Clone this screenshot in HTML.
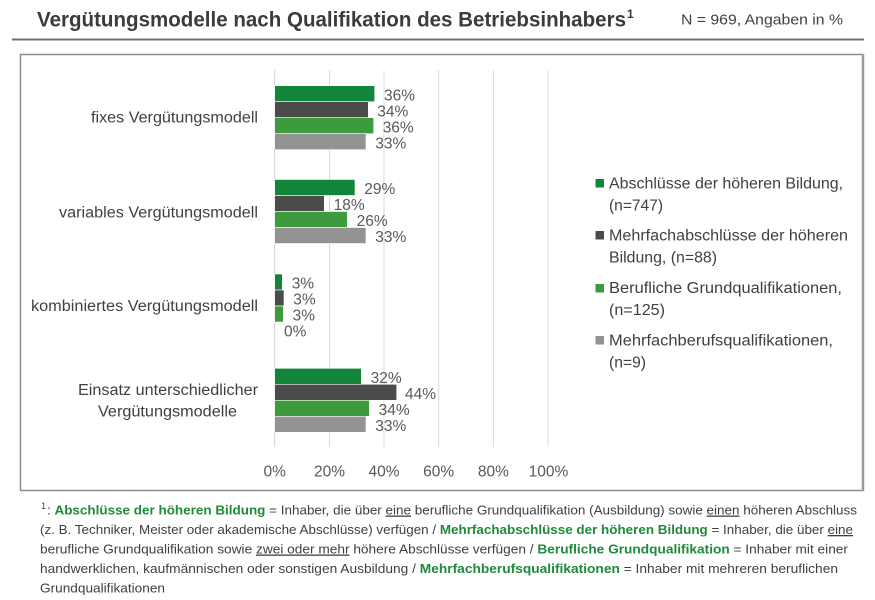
<!DOCTYPE html>
<html>
<head>
<meta charset="utf-8">
<style>
  html, body { margin: 0; padding: 0; background: #ffffff; }
  body { width: 875px; height: 600px; overflow: hidden; }
  svg { display: block; }
  text { font-family: "Liberation Sans", "DejaVu Sans", sans-serif; }
</style>
</head>
<body>
<svg width="875" height="600" viewBox="0 0 875 600" xmlns="http://www.w3.org/2000/svg">
  <rect x="0" y="0" width="875" height="600" fill="#ffffff"/>

  <!-- Title -->
  <text x="37" y="26.5" font-size="21" font-weight="bold" fill="#3b3b3b" textLength="589" lengthAdjust="spacingAndGlyphs">Vergütungsmodelle nach Qualifikation des Betriebsinhabers</text>
  <text x="627" y="18" font-size="12" font-weight="bold" fill="#3b3b3b">1</text>
  <text x="681" y="24.5" font-size="15" fill="#404040" textLength="162" lengthAdjust="spacingAndGlyphs">N = 969, Angaben in %</text>
  <line x1="12" y1="39.5" x2="864" y2="39.5" stroke="#707070" stroke-width="2"/>

  <!-- Chart box -->
  <rect x="20.5" y="54.5" width="842.5" height="436" fill="#ffffff" stroke="#8c8c8c" stroke-width="1.5"/>
  <line x1="863" y1="54" x2="863" y2="491" stroke="#9a9a9a" stroke-width="2.5"/>

  <!-- Gridlines -->
  <g stroke="#d9d9d9" stroke-width="1">
    <line x1="329.5" y1="70.5" x2="329.5" y2="447"/>
    <line x1="384" y1="70.5" x2="384" y2="447"/>
    <line x1="438.7" y1="70.5" x2="438.7" y2="447"/>
    <line x1="493.4" y1="70.5" x2="493.4" y2="447"/>
    <line x1="548" y1="70.5" x2="548" y2="447"/>
  </g>
  <line x1="274.7" y1="70.5" x2="274.7" y2="447" stroke="#d0d0d0" stroke-width="1"/>

  <!-- Category labels -->
  <g font-size="15.5" fill="#404040">
    <text x="91" y="122.5" textLength="167" lengthAdjust="spacingAndGlyphs">fixes Vergütungsmodell</text>
    <text x="59" y="217.5" textLength="199" lengthAdjust="spacingAndGlyphs">variables Vergütungsmodell</text>
    <text x="31" y="311" textLength="227" lengthAdjust="spacingAndGlyphs">kombiniertes Vergütungsmodell</text>
    <text x="78" y="395" textLength="180" lengthAdjust="spacingAndGlyphs">Einsatz unterschiedlicher</text>
    <text x="98" y="416.5" textLength="139" lengthAdjust="spacingAndGlyphs">Vergütungsmodelle</text>
  </g>

  <!-- Bars -->
  <g stroke="#ffffff" stroke-width="0.6">
    <rect x="274.7" y="85.7" width="100" height="16" fill="#13853a"/>
    <rect x="274.7" y="101.7" width="93.6" height="16" fill="#4b4b4b"/>
    <rect x="274.7" y="117.7" width="99" height="16" fill="#3c9b3c"/>
    <rect x="274.7" y="133.7" width="91.3" height="16" fill="#939393"/>

    <rect x="274.7" y="179.5" width="80.3" height="16" fill="#13853a"/>
    <rect x="274.7" y="195.5" width="49.6" height="16" fill="#4b4b4b"/>
    <rect x="274.7" y="211.5" width="72.6" height="16" fill="#3c9b3c"/>
    <rect x="274.7" y="227.5" width="91.3" height="16" fill="#939393"/>

    <rect x="274.7" y="274" width="7.6" height="16" fill="#13853a"/>
    <rect x="274.7" y="290" width="9.3" height="16" fill="#4b4b4b"/>
    <rect x="274.7" y="306" width="8.6" height="16" fill="#3c9b3c"/>

    <rect x="274.7" y="368.3" width="86.6" height="16" fill="#13853a"/>
    <rect x="274.7" y="384.3" width="122" height="16" fill="#4b4b4b"/>
    <rect x="274.7" y="400.3" width="94.6" height="16" fill="#3c9b3c"/>
    <rect x="274.7" y="416.3" width="91.3" height="16" fill="#939393"/>
  </g>

  <!-- Data labels -->
  <g font-size="15.5" fill="#595959">
    <text x="384" y="100.3">36%</text>
    <text x="377.3" y="116.3">34%</text>
    <text x="382.7" y="132.3">36%</text>
    <text x="375.3" y="148.3">33%</text>

    <text x="364.3" y="194">29%</text>
    <text x="333.6" y="210">18%</text>
    <text x="356.6" y="226">26%</text>
    <text x="375.3" y="242">33%</text>

    <text x="291.7" y="288.5">3%</text>
    <text x="293.3" y="304.5">3%</text>
    <text x="292.6" y="320.5">3%</text>
    <text x="284" y="336.5">0%</text>

    <text x="370.6" y="383">32%</text>
    <text x="405" y="399">44%</text>
    <text x="378.6" y="415">34%</text>
    <text x="375.3" y="431">33%</text>
  </g>

  <!-- X tick labels -->
  <g font-size="15.5" fill="#595959" text-anchor="middle">
    <text x="274.7" y="476.5">0%</text>
    <text x="329.5" y="476.5">20%</text>
    <text x="384" y="476.5">40%</text>
    <text x="438.7" y="476.5">60%</text>
    <text x="493.4" y="476.5">80%</text>
    <text x="548.5" y="476.5">100%</text>
  </g>

  <!-- Legend -->
  <rect x="595.5" y="179" width="8.5" height="8.5" fill="#13853a"/>
  <rect x="595.5" y="231" width="8.5" height="8.5" fill="#4b4b4b"/>
  <rect x="595.5" y="284" width="8.5" height="8.5" fill="#3c9b3c"/>
  <rect x="595.5" y="336" width="8.5" height="8.5" fill="#939393"/>
  <g font-size="15.5" fill="#404040">
    <text x="609" y="188.5" textLength="234" lengthAdjust="spacingAndGlyphs">Abschlüsse der höheren Bildung,</text>
    <text x="609" y="210.5" textLength="54" lengthAdjust="spacingAndGlyphs">(n=747)</text>
    <text x="609" y="240.5" textLength="239" lengthAdjust="spacingAndGlyphs">Mehrfachabschlüsse der höheren</text>
    <text x="609" y="262.5" textLength="108" lengthAdjust="spacingAndGlyphs">Bildung, (n=88)</text>
    <text x="609" y="293" textLength="233" lengthAdjust="spacingAndGlyphs">Berufliche Grundqualifikationen,</text>
    <text x="609" y="315" textLength="56" lengthAdjust="spacingAndGlyphs">(n=125)</text>
    <text x="609" y="345.5" textLength="224" lengthAdjust="spacingAndGlyphs">Mehrfachberufsqualifikationen,</text>
    <text x="609" y="367.5" textLength="37" lengthAdjust="spacingAndGlyphs">(n=9)</text>
  </g>

  <!-- Footnote -->
  <g font-size="13" fill="#404040">
    <text x="41" y="509" font-size="9">1</text>
    <text x="47" y="514.5" textLength="810" lengthAdjust="spacingAndGlyphs">: <tspan font-weight="bold" fill="#1f8a3c">Abschlüsse der höheren Bildung</tspan> = Inhaber, die über <tspan text-decoration="underline">eine</tspan> berufliche Grundqualifikation (Ausbildung) sowie <tspan text-decoration="underline">einen</tspan> höheren Abschluss</text>
    <text x="40" y="534" textLength="813" lengthAdjust="spacingAndGlyphs">(z. B. Techniker, Meister oder akademische Abschlüsse) verfügen / <tspan font-weight="bold" fill="#1f8a3c">Mehrfachabschlüsse der höheren Bildung</tspan> = Inhaber, die über <tspan text-decoration="underline">eine</tspan></text>
    <text x="40" y="553.5" textLength="808" lengthAdjust="spacingAndGlyphs">berufliche Grundqualifikation sowie <tspan text-decoration="underline">zwei oder mehr</tspan> höhere Abschlüsse verfügen / <tspan font-weight="bold" fill="#1f8a3c">Berufliche Grundqualifikation</tspan> = Inhaber mit einer</text>
    <text x="40" y="573" textLength="798" lengthAdjust="spacingAndGlyphs">handwerklichen, kaufmännischen oder sonstigen Ausbildung / <tspan font-weight="bold" fill="#1f8a3c">Mehrfachberufsqualifikationen</tspan> = Inhaber mit mehreren beruflichen</text>
    <text x="40" y="592.5" textLength="125" lengthAdjust="spacingAndGlyphs">Grundqualifikationen</text>
  </g>
</svg>
</body>
</html>
